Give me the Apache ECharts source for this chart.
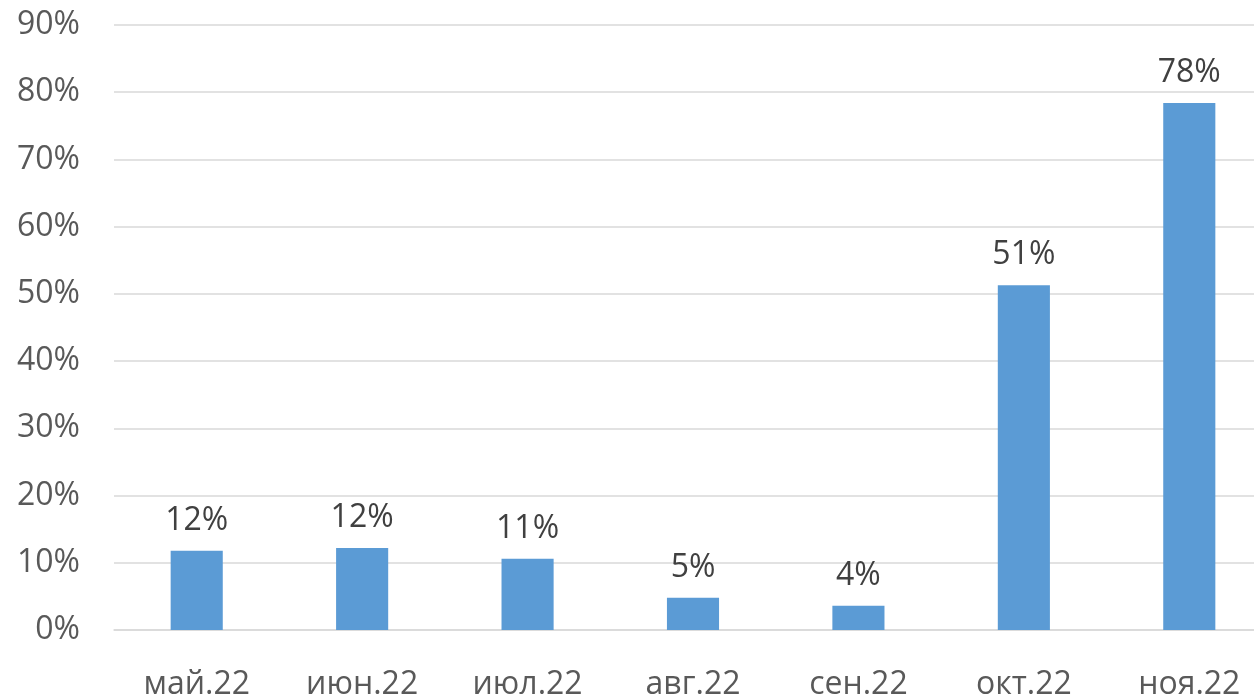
<!DOCTYPE html>
<html>
<head>
<meta charset="utf-8">
<script src="https://cdn.jsdelivr.net/npm/echarts@6/dist/echarts.min.js"></script>
<style>
html,body{margin:0;padding:0;background:#fff;}
#chart{width:1254px;height:694px;}
</style>
</head>
<body>
<div id="chart"></div>
<script>
const categories = ['май.22', 'июн.22', 'июл.22', 'авг.22', 'сен.22', 'окт.22', 'ноя.22'];
const values = [11.8, 12.2, 10.6, 4.8, 3.6, 51.3, 78.4];
const yTicks = [0, 10, 20, 30, 40, 50, 60, 70, 80, 90];

const FONT = '"Open Sans", "Noto Sans", sans-serif';
const chart = echarts.init(document.getElementById('chart'));
chart.setOption({
  animation: false,
  backgroundColor: '#ffffff',
  grid: { left: 114, right: -18, top: 25, bottom: 64, containLabel: false, outerBoundsMode: 'none' },
  xAxis: {
    type: 'category',
    data: categories,
    axisLine: { show: true, lineStyle: { color: '#d9d9d9', width: 1.5 } },
    axisTick: { show: false },
    axisLabel: { color: '#595959', fontSize: 32, fontFamily: FONT, margin: 39 }
  },
  yAxis: {
    type: 'value',
    min: yTicks[0],
    max: yTicks[yTicks.length - 1],
    interval: 10,
    axisLine: { show: false },
    axisTick: { show: false },
    splitLine: { lineStyle: { color: '#d9d9d9', width: 1.5 } },
    axisLabel: { color: '#595959', fontSize: 32, fontFamily: FONT, margin: 34, formatter: v => v + '%' }
  },
  series: [{
    type: 'bar',
    data: values,
    barWidth: '31.5%',
    itemStyle: { color: '#5b9bd5' },
    label: {
      show: true,
      position: 'top',
      distance: 14,
      color: '#404040',
      fontSize: 32,
      fontFamily: FONT,
      formatter: p => Math.round(p.value) + '%'
    }
  }]
});
</script>
</body>
</html>
